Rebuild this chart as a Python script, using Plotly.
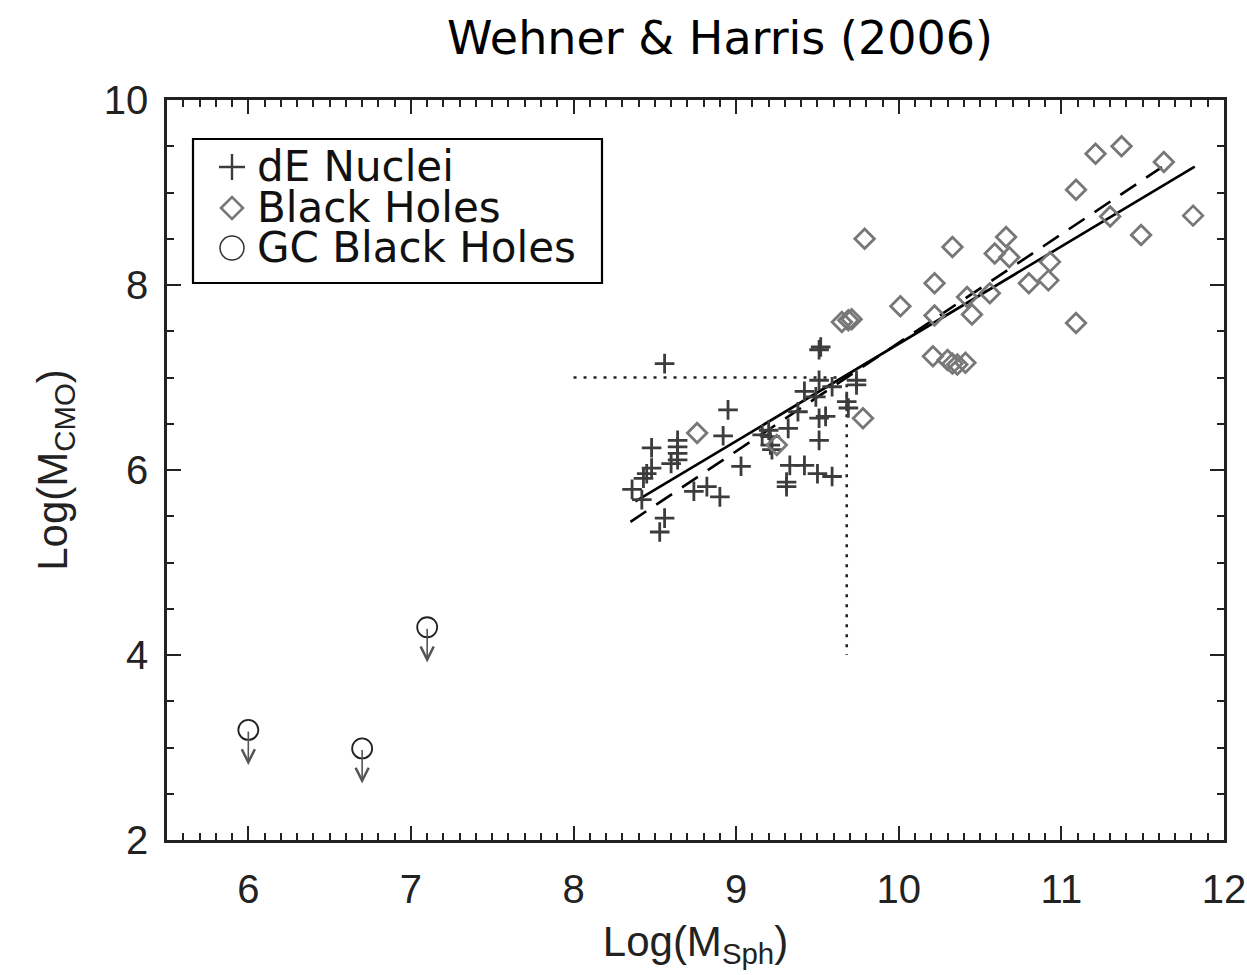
import plotly.graph_objects as go

# ---------------- data ----------------
dE_x = [8.36, 8.42, 8.43, 8.45, 8.48, 8.48, 8.53, 8.56, 8.56, 8.60, 8.64, 8.64, 8.64, 8.64,
        8.74, 8.82, 8.90, 8.92, 8.95, 9.03, 9.16, 9.20, 9.21, 9.21, 9.22, 9.31, 9.31, 9.32,
        9.33, 9.38, 9.42, 9.42, 9.49, 9.50, 9.51, 9.52, 9.51, 9.51, 9.51, 9.55, 9.59, 9.59,
        9.68, 9.69, 9.74, 9.74]
dE_y = [5.79, 5.68, 5.91, 5.96, 6.02, 6.24, 5.33, 5.48, 7.15, 6.07, 6.11, 6.18, 6.25, 6.32,
        5.77, 5.82, 5.71, 6.37, 6.65, 6.04, 6.38, 6.43, 6.36, 6.27, 6.22, 5.87, 5.82, 6.45,
        6.05, 6.63, 6.05, 6.85, 6.79, 5.96, 7.30, 7.33, 6.97, 6.56, 6.32, 6.58, 5.93, 6.90,
        6.74, 6.67, 6.97, 6.92]

bh_x = [8.76, 9.25, 9.65, 9.69, 9.71, 9.78, 9.79, 10.01, 10.21, 10.22, 10.22, 10.30, 10.33,
        10.33, 10.36, 10.41, 10.42, 10.45, 10.56, 10.59, 10.66, 10.68, 10.80, 10.92, 10.93,
        11.09, 11.09, 11.21, 11.30, 11.37, 11.49, 11.63, 11.81]
bh_y = [6.40, 6.27, 7.60, 7.62, 7.63, 6.56, 8.50, 7.77, 7.23, 7.67, 8.02, 7.19, 7.15,
        8.41, 7.14, 7.16, 7.87, 7.68, 7.91, 8.34, 8.52, 8.30, 8.02, 8.05, 8.25,
        9.03, 7.59, 9.42, 8.74, 9.50, 8.54, 9.33, 8.75]

gc_x = [6.00, 6.70, 7.10]
gc_y = [3.19, 2.99, 4.30]
gc_arrow_len = 0.38

fit_solid_x = [8.38, 11.82]
fit_solid_y = [5.66, 9.28]
fit_dash_x = [8.35, 11.64]
fit_dash_y = [5.44, 9.30]
dot_x = [8.0, 9.68, 9.68]
dot_y = [7.0, 7.0, 4.0]

legend_labels = ["dE Nuclei", "Black Holes", "GC Black Holes"]
title_text = "Wehner & Harris (2006)"

# ---------------- figure ----------------
fig = go.Figure()

fig.add_trace(go.Scatter(x=dot_x, y=dot_y, mode="lines",
                         line=dict(color="#222222", width=2.6, dash="3px,7px"), showlegend=False))
fig.add_trace(go.Scatter(x=fit_dash_x, y=fit_dash_y, mode="lines",
                         line=dict(color="black", width=2.6, dash="19px,12px"), showlegend=False))
fig.add_trace(go.Scatter(x=fit_solid_x, y=fit_solid_y, mode="lines",
                         line=dict(color="black", width=2.6), showlegend=False))
fig.add_trace(go.Scatter(x=dE_x, y=dE_y, mode="markers", name=legend_labels[0],
                         marker=dict(symbol="cross-thin", size=14,
                                     line=dict(color="#3c3c3c", width=2.8)),
                         showlegend=False))
fig.add_trace(go.Scatter(x=bh_x, y=bh_y, mode="markers", name=legend_labels[1],
                         marker=dict(symbol="diamond-open", size=15, color="#777777",
                                     line=dict(color="#777777", width=2.8)),
                         showlegend=False))
fig.add_trace(go.Scatter(x=gc_x, y=gc_y, mode="markers", name=legend_labels[2],
                         marker=dict(symbol="circle-open", size=20, color="#222222",
                                     line=dict(color="#222222", width=1.8)),
                         showlegend=False))

# upper-limit arrows for GC black holes
for gx, gy in zip(gc_x, gc_y):
    fig.add_annotation(x=gx, y=gy - gc_arrow_len, ax=gx, ay=gy,
                       xref="x", yref="y", axref="x", ayref="y",
                       text="", showarrow=True, arrowhead=5, arrowsize=1.6,
                       arrowwidth=1.6, arrowcolor="#555555", standoff=0, startstandoff=0)

# ---------------- manual legend ----------------
L, T, W_PLOT, H_PLOT = 167, 100, 1057, 740


def px_x(p):
    return (p - L) / W_PLOT


def px_y(p):
    return (T + H_PLOT - p) / H_PLOT


fig.add_shape(type="rect", xref="paper", yref="paper",
              x0=px_x(193), x1=px_x(602), y0=px_y(283), y1=px_y(139),
              line=dict(color="black", width=2.2), fillcolor="white", layer="below")

rows_y = [167, 208, 248]
sym_x = px_x(232)
fig.add_shape(type="path", xref="paper", yref="paper", xsizemode="pixel", ysizemode="pixel",
              xanchor=sym_x, yanchor=px_y(rows_y[0]),
              path="M-13,0 H13 M0,-13 V13", line=dict(color="#3c3c3c", width=2.4))
fig.add_shape(type="path", xref="paper", yref="paper", xsizemode="pixel", ysizemode="pixel",
              xanchor=sym_x, yanchor=px_y(rows_y[1]),
              path="M-11,0 L0,11 L11,0 L0,-11 Z", line=dict(color="#777777", width=2.6))
fig.add_shape(type="circle", xref="paper", yref="paper", xsizemode="pixel", ysizemode="pixel",
              xanchor=sym_x, yanchor=px_y(rows_y[2]),
              x0=-12, x1=12, y0=-12, y1=12, line=dict(color="#333333", width=1.6))

for lab, ry in zip(legend_labels, rows_y):
    fig.add_annotation(x=px_x(255), y=px_y(ry), xref="paper", yref="paper",
                       text=lab, showarrow=False, xanchor="left", yanchor="middle",
                       font=dict(family="DejaVu Sans", size=42, color="#111111"))

axis_font = dict(family="Liberation Sans", size=40, color="#222222")

fig.update_xaxes(range=[5.5, 12], tickmode="linear", tick0=0, dtick=1,
                 ticks="inside", ticklen=14, tickwidth=2, tickcolor="#222222",
                 minor=dict(ticks="inside", ticklen=7, tickwidth=1.5, tickcolor="#222222",
                            dtick=0.1, tick0=0, showgrid=False),
                 showline=True, linecolor="#222222", linewidth=2.5, mirror="allticks",
                 showgrid=False, zeroline=False, tickfont=axis_font, ticklabelstandoff=12,
                 title=dict(text="Log(M<sub>Sph</sub>)", font=dict(family="Liberation Sans", size=42, color="#222222"),
                            standoff=17))
fig.update_yaxes(range=[2, 10], tickmode="linear", tick0=0, dtick=2,
                 ticks="inside", ticklen=14, tickwidth=2, tickcolor="#222222",
                 minor=dict(ticks="inside", ticklen=7, tickwidth=1.5, tickcolor="#222222",
                            dtick=0.5, tick0=0, showgrid=False),
                 showline=True, linecolor="#222222", linewidth=2.5, mirror="allticks",
                 showgrid=False, zeroline=False, tickfont=axis_font, ticklabelstandoff=8,
                 title=dict(text="Log(M<sub>CMO</sub>)", font=dict(family="Liberation Sans", size=42, color="#222222"),
                            standoff=24))

fig.update_layout(
    width=1247, height=975,
    margin=dict(l=167, r=23, t=100, b=135, autoexpand=False),
    paper_bgcolor="white", plot_bgcolor="white",
    showlegend=False,
    title=dict(text=title_text, xref="paper", x=(720 - L) / W_PLOT, xanchor="center",
               yref="container", y=1 - 38 / 975, yanchor="middle",
               font=dict(family="DejaVu Sans", size=46, color="black")),
)

fig.write_html("out.html")
